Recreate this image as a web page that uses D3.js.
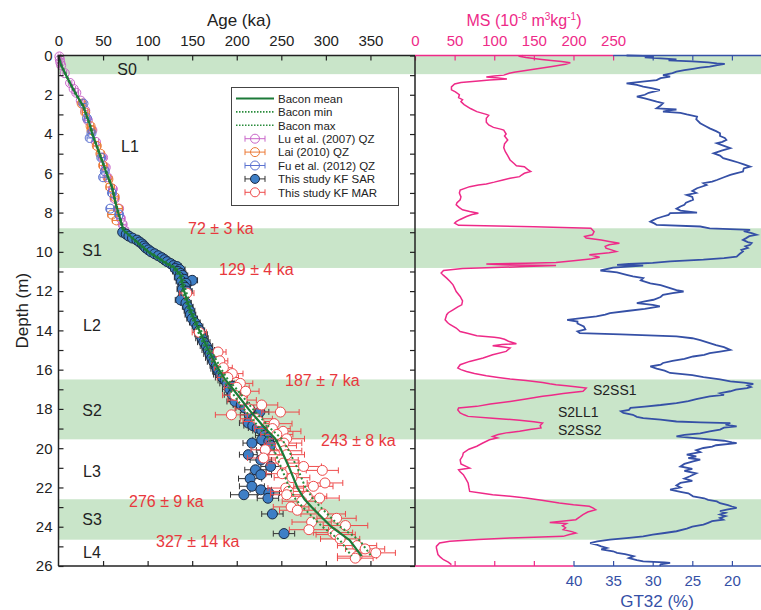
<!DOCTYPE html>
<html>
<head>
<meta charset="utf-8">
<script src="https://cdn.jsdelivr.net/npm/d3@7"></script>
<style>
  body { margin: 0; background: #fff; }
</style>
</head>
<body>
<script>
const W = 761, H = 610;
const FONT = "Arial, 'Liberation Sans', sans-serif";

// ---- data ----
const units = ["S0", "L1", "S1", "L2", "S2", "L3", "S3", "L4"];
const unitDepth = [0.69, 4.66, 9.95, 13.75, 18.09, 21.18, 23.64, 25.3];
const unitX = [127, 130, 92, 92, 92, 92, 92, 92];

const bandTop = [0, 8.8, 16.5, 22.6];
const bandBot = [0.95, 10.82, 19.55, 24.66];

const ageLabels = ["72 ± 3 ka", "129 ± 4 ka", "187 ± 7 ka", "243 ± 8 ka", "276 ± 9 ka", "327 ± 14 ka"];
const ageLabelDepth = [8.83, 10.92, 16.55, 19.62, 22.71, 24.74];
const ageLabelX = [188, 219, 285, 321, 129, 156];

const subUnits = ["S2SS1", "S2LL1", "S2SS2"];
const subUnitDepth = [17.05, 18.15, 19.05];
const subUnitX = [593, 558, 558];

const ageTicks = [0, 50, 100, 150, 200, 250, 300, 350];
const msTicks = [0, 50, 100, 150, 200, 250];
const gtTicks = [40, 35, 30, 25, 20];

// Bacon age model [depth m, age ka]
const baconMean = [[0,0],[0.5,3],[1,8.5],[1.5,14],[2,20],[2.6,28],[3,31],[3.5,35],[4,38],[5,46],[5.5,50],[6,54],[6.7,60],[7.5,64],[8,67],[8.9,73],[9.5,88],[10,101],[10.5,118],[10.8,130],[11.2,137],[12,141],[13,148],[14,158],[15,168],[16,180],[16.5,187],[17,196],[18,213],[19,232],[19.5,243],[20,249],[21,259],[22,268],[22.6,276],[23,284],[24,306],[24.7,327],[25.5,340]];
const baconMin = [[0,0],[0.5,2.5],[1,8],[1.5,13.5],[2,19.5],[2.6,27.5],[3,30.5],[3.5,34.5],[4,37.5],[5,45.5],[5.5,49.5],[6,53.5],[6.7,59.5],[7.5,63.5],[8,66.5],[8.9,72],[9.5,87],[10,100],[10.5,116],[10.8,128],[11.2,135],[12,139],[13,146],[14,156],[15,165],[16,177],[16.5,184],[17,192],[18,208],[19,226],[19.5,236],[20,241],[21,250],[22,259],[22.6,266],[23,274],[24,296],[24.7,316],[25.5,329]];
const baconMax = [[0,0],[0.5,3.5],[1,9],[1.5,14.5],[2,20.5],[2.6,28.5],[3,31.5],[3.5,35.5],[4,38.5],[5,46.5],[5.5,50.5],[6,54.5],[6.7,60.5],[7.5,64.5],[8,67.5],[8.9,74],[9.5,89],[10,102],[10.5,120],[10.8,132],[11.2,139],[12,143],[13,150],[14,160],[15,171],[16,183],[16.5,190],[17,200],[18,218],[19,238],[19.5,250],[20,257],[21,268],[22,277],[22.6,286],[23,294],[24,316],[24.7,338],[25.5,351]];

// OSL ages [depth m, age ka, error ka]
const luQZ = [[0.05,1,1.5],[0.2,1.5,1.5],[0.35,2,1.5],[0.5,3,1.5],[0.9,7,2],[1.4,13,2],[1.7,17,2],[1.9,20,2.5],[2.3,25,2.5],[2.8,30,3],[3.3,33,3],[3.8,38,3],[4.4,42,3],[5.2,50,3.5],[5.7,53,3.5],[6.2,55,3.5],[6.8,61,4],[7.3,63,4],[7.8,68,4],[8.3,70,4],[8.6,72,4],[8.9,74,4]];
const laiQZ = [[2.45,26,3],[2.9,30,3],[3.6,36,3.5],[3.8,37,3.5],[4.6,43,4],[5.0,47,4],[5.6,50,4],[6.3,56,4],[6.7,58,4.5],[7.2,63,4.5],[7.8,67,4.5],[8.1,60,4.5],[8.4,65,4.5]];
const fuQZ = [[2.45,28,3],[3.2,32,3],[3.95,37,3],[4.2,35,3],[5.2,48,3.5],[5.9,52,3.5],[6.2,50,3.5],[7.0,60,4],[7.8,58,4],[8.1,68,4]];
const sarKF = [[9.0,72,3],[9.1,76,3],[9.2,79,3],[9.3,83,4],[9.4,88,4],[9.5,91,4],[9.6,94,4],[9.7,96,4],[9.8,98,4],[9.9,101,4],[10.0,104,5],[10.1,108,5],[10.2,112,5],[10.3,116,5],[10.4,119,5],[10.5,122,5],[10.6,126,5],[10.7,129,5],[10.75,133,5],[10.85,131,5],[10.9,136,6],[11.0,134,6],[11.1,137,6],[11.2,139,6],[11.3,136,6],[11.4,141,6],[11.45,150,6],[11.5,138,6],[11.6,143,6],[11.7,140,6],[11.8,142,6],[11.9,139,6],[12.0,144,6],[12.2,141,6],[12.45,137,6],[12.6,143,6],[12.8,145,6],[13.0,147,6],[13.2,148,6],[13.4,150,6],[13.6,153,6],[13.8,156,6],[14.0,158,6],[14.2,160,7],[14.4,161,7],[14.6,163,7],[14.8,166,7],[15.0,168,7],[15.2,170,7],[15.4,172,7],[15.6,174,7],[15.8,177,7],[15.95,178,7],[16.1,180,7],[16.25,182,8],[16.4,184,8],[16.55,187,8],[16.7,189,8],[16.85,195,8],[17.0,192,8],[17.1,197,8],[17.28,195,9],[17.45,200,9],[17.62,198,9],[17.8,205,9],[17.95,209,10],[18.05,215,10],[18.15,226,10],[18.3,214,10],[18.5,219,10],[18.72,213,10],[18.85,218,10],[18.97,223,10],[19.1,228,10],[19.23,236,10],[19.35,231,10],[19.45,236,10],[19.57,228,10],[19.65,236,10],[19.74,217,10],[19.85,238,10],[20.1,232,10],[20.33,213,10],[20.6,227,12],[20.93,238,11],[21.1,221,12],[21.35,227,12],[21.55,215,13],[21.94,217,14],[22.12,227,12],[22.28,236,12],[22.37,208,15],[22.55,235,12],[23.35,240,12],[24.35,253,12]];
const marKF = [[12.1,144,8],[14.1,158,8],[15.1,179,9],[15.55,181,9],[15.9,185,10],[16.2,195,12],[16.4,190,12],[16.7,204,14],[16.9,200,14],[17.1,210,15],[17.3,198,14],[17.55,206,16],[17.8,228,18],[18.0,214,16],[18.16,249,21],[18.3,194,18],[18.5,222,18],[18.64,225,18],[18.75,242,20],[19.0,240,20],[19.14,252,20],[19.3,245,18],[19.52,256,20],[19.74,253,20],[19.87,249,18],[20.08,232,16],[20.13,253,20],[20.33,256,20],[20.5,230,18],[20.6,249,20],[20.76,252,18],[20.93,275,20],[21.13,296,18],[21.3,251,18],[21.5,262,20],[21.77,299,20],[21.94,286,22],[22.03,255,20],[22.2,258,20],[22.37,256,18],[22.45,279,22],[22.54,293,22],[22.7,273,22],[22.99,261,20],[23.16,268,20],[23.35,297,25],[23.57,312,22],[23.76,284,22],[23.94,322,25],[24.15,281,22],[24.3,308,22],[24.4,311,22],[24.62,316,22],[24.96,335,22],[25.13,344,22],[25.33,356,22],[25.5,335,22],[25.6,333,20]];

// Magnetic susceptibility [depth m, MS 10^-8 m3/kg]
const msData = [[0,136],[0.05,133],[0.1,140],[0.15,150],[0.2,160],[0.25,172],[0.3,185],[0.37,196],[0.45,190],[0.55,175],[0.7,150],[0.85,125],[0.9,119],[1.0,112],[1.05,100],[1.1,90],[1.15,105],[1.2,116],[1.25,94],[1.3,80],[1.38,58],[1.45,50],[1.6,46],[1.75,46],[1.85,51],[2.0,56],[2.15,55],[2.25,60],[2.35,58],[2.5,62],[2.7,70],[2.86,78],[3.0,90],[3.05,93],[3.2,90],[3.4,90],[3.54,93],[3.66,99],[3.75,108],[3.8,112],[4.0,115],[4.1,113],[4.3,117],[4.5,113],[4.7,112],[4.9,114],[5.1,117],[5.32,120],[5.5,125],[5.62,128],[5.66,138],[5.8,142],[5.91,146],[6.0,138],[6.1,134],[6.17,132],[6.25,120],[6.34,111],[6.45,100],[6.54,90],[6.6,80],[6.68,69],[6.85,57],[7.0,56],[7.2,58],[7.35,57],[7.5,53],[7.6,52],[7.75,56],[7.86,60],[7.95,69],[8.03,80],[8.1,72],[8.2,65],[8.35,57],[8.46,52],[8.54,50],[8.65,55],[8.72,150],[8.8,222],[8.97,226],[9.13,224],[9.22,214],[9.3,216],[9.4,235],[9.47,245],[9.56,258],[9.64,245],[9.72,240],[9.81,241],[9.9,248],[9.98,254],[10.05,245],[10.15,220],[10.22,228],[10.27,233],[10.37,221],[10.45,200],[10.54,178],[10.58,140],[10.62,90],[10.66,110],[10.7,178],[10.75,140],[10.85,60],[10.95,36],[11.08,33],[11.2,36],[11.34,40],[11.5,44],[11.68,48],[11.85,50],[12.02,52],[12.27,57],[12.5,60],[12.7,59],[12.8,54],[12.95,48],[13.1,42],[13.2,40],[13.46,38],[13.6,41],[13.7,44],[13.88,52],[14.06,57],[14.15,66],[14.27,78],[14.35,100],[14.39,107],[14.45,113],[14.55,118],[14.68,128],[14.72,110],[14.78,98],[14.85,112],[14.9,120],[15.07,115],[15.24,98],[15.41,86],[15.58,69],[15.75,57],[15.92,54],[16.0,58],[16.09,65],[16.2,75],[16.31,90],[16.4,105],[16.48,120],[16.55,140],[16.65,161],[16.72,170],[16.77,178],[16.82,191],[16.88,205],[16.94,216],[17.02,214],[17.1,212],[17.22,187],[17.3,172],[17.36,161],[17.5,140],[17.62,120],[17.75,95],[17.87,78],[17.95,55],[18.05,54],[18.2,57],[18.3,62],[18.38,67],[18.47,98],[18.52,115],[18.58,132],[18.65,150],[18.72,161],[18.85,158],[18.97,159],[19.05,145],[19.14,132],[19.22,115],[19.3,105],[19.4,98],[19.48,104],[19.57,94],[19.75,85],[19.9,78],[20.05,68],[20.24,61],[20.4,60],[20.59,57],[20.8,58],[21.01,69],[21.1,55],[21.2,57],[21.35,61],[21.55,64],[21.77,67],[22.0,68],[22.2,69],[22.3,85],[22.37,98],[22.45,120],[22.54,140],[22.65,160],[22.79,182],[22.88,200],[22.96,220],[23.05,225],[23.13,228],[23.25,218],[23.38,212],[23.5,208],[23.64,203],[23.72,185],[23.78,170],[23.84,191],[23.95,186],[24.05,190],[24.15,187],[24.25,198],[24.32,203],[24.4,195],[24.49,187],[24.53,150],[24.57,120],[24.65,80],[24.74,44],[24.83,31],[25.0,27],[25.08,27],[25.25,28],[25.42,29],[25.55,32],[25.68,36],[25.8,42],[25.93,46]];

// Grain size >32 um [depth m, %]
const gtData = [[0,33.3],[0.02,31.2],[0.06,29.9],[0.1,31],[0.15,29],[0.2,27],[0.25,28],[0.3,25],[0.35,23],[0.4,21.9],[0.43,20.9],[0.5,22],[0.57,22.8],[0.62,24],[0.68,24.9],[0.75,26],[0.82,27],[0.9,27.5],[1.0,28.7],[1.08,27.8],[1.15,29],[1.25,29.5],[1.32,31],[1.42,33.3],[1.5,32],[1.59,31.2],[1.68,30],[1.76,29.1],[1.9,30.5],[2.0,31],[2.1,32],[2.18,31],[2.26,30.3],[2.35,29.5],[2.43,28.7],[2.55,29],[2.69,29.5],[2.75,27],[2.8,28],[2.86,28.7],[2.92,26.5],[3.0,25.7],[3.11,24.4],[3.25,24.5],[3.45,24],[3.6,23.3],[3.71,22.8],[3.85,22],[3.96,21.5],[4.1,21.5],[4.2,20.9],[4.3,20.7],[4.4,21.2],[4.47,21.9],[4.6,21],[4.72,20.2],[4.85,21.3],[4.98,22.3],[5.1,21.5],[5.23,21.1],[5.35,20],[5.45,19.2],[5.55,18.5],[5.66,17.7],[5.75,18.5],[5.91,18.6],[6.0,19.5],[6.08,20.2],[6.2,21],[6.34,21.9],[6.42,22.5],[6.5,23.6],[6.6,23.2],[6.76,24.4],[6.9,25],[7.0,24.5],[7.1,25.7],[7.2,25],[7.35,24.9],[7.5,25.8],[7.6,26],[7.69,26.5],[7.8,27],[7.9,26.5],[8.0,24.4],[8.03,27.8],[8.12,28],[8.2,28.7],[8.3,29.5],[8.4,30],[8.46,30.3],[8.55,29.8],[8.63,29.5],[8.71,24],[8.8,22.8],[8.88,17.7],[8.95,18.5],[9.05,17.5],[9.13,16.9],[9.2,17.8],[9.3,18.2],[9.39,18.6],[9.5,18],[9.55,17.5],[9.64,17.7],[9.72,18.3],[9.8,18],[9.9,18.8],[9.98,18.6],[10.1,19],[10.24,19.4],[10.32,21],[10.4,23.6],[10.49,27.8],[10.56,30],[10.62,33],[10.66,34.5],[10.7,31.2],[10.8,35],[10.95,36.6],[11.05,34.5],[11.17,33.3],[11.25,32.5],[11.34,31.2],[11.45,31.5],[11.6,30.3],[11.7,29],[11.85,27.8],[11.95,27],[12.02,26.1],[12.1,27.5],[12.19,28.7],[12.3,29],[12.44,29.9],[12.52,31],[12.61,32],[12.7,30],[12.78,29.1],[12.9,31],[13.0,33],[13.12,35.4],[13.2,36],[13.29,37.1],[13.38,39],[13.46,40.8],[13.55,39.5],[13.65,39.5],[13.8,38.7],[13.95,38.5],[14.05,39.5],[14.14,39.2],[14.2,34],[14.31,27],[14.4,25],[14.5,24],[14.65,22.8],[14.75,22],[14.85,21],[14.99,20.2],[15.08,21.5],[15.16,22.8],[15.25,23.5],[15.33,24.9],[15.45,26],[15.55,27.5],[15.66,28.7],[15.75,29],[15.84,30.3],[15.95,29.5],[16.05,28.5],[16.17,27.8],[16.28,25],[16.38,23.6],[16.5,21.5],[16.6,20.2],[16.66,18.5],[16.72,17.3],[16.8,18],[16.88,17.6],[16.94,18.1],[17.02,19.5],[17.1,20.2],[17.2,21.5],[17.28,21],[17.36,22.8],[17.5,24.5],[17.6,25.5],[17.7,27],[17.8,29],[17.88,31],[17.95,32.8],[18.05,33],[18.12,34],[18.2,33.7],[18.3,32.5],[18.4,32],[18.47,31.2],[18.55,29],[18.64,27],[18.68,24],[18.72,20.2],[18.8,20.8],[18.89,19.4],[18.95,21],[19.05,21.5],[19.14,22.8],[19.25,24],[19.32,26],[19.4,27],[19.47,25],[19.53,23.6],[19.62,21],[19.7,20],[19.74,19.4],[19.85,22],[19.92,22.5],[19.99,23.6],[20.1,24.5],[20.2,24],[20.33,25.7],[20.42,24.5],[20.5,25.5],[20.58,24],[20.67,24.9],[20.8,26],[20.93,26.5],[21.05,25],[21.15,26],[21.28,24.5],[21.43,25.3],[21.55,26],[21.66,25],[21.77,26.5],[21.9,27],[22.0,26.5],[22.11,27.8],[22.22,26.5],[22.3,25.5],[22.45,24.9],[22.55,23.5],[22.63,23],[22.71,21.9],[22.8,21.5],[22.9,20.5],[22.97,20],[23.04,19.4],[23.12,20.5],[23.2,21.5],[23.29,20.8],[23.38,21.5],[23.46,20.8],[23.55,21.5],[23.64,21.1],[23.72,22.5],[23.8,23],[23.89,23.6],[24.0,25],[24.1,25.7],[24.23,27],[24.32,28.5],[24.4,30],[24.49,31.2],[24.57,33],[24.66,35.4],[24.75,37],[24.83,37.9],[24.92,37],[25.0,36.5],[25.08,35.8],[25.15,36.5],[25.25,35],[25.33,34.5],[25.4,33.5],[25.5,32.4],[25.6,33],[25.7,32],[25.76,31.2],[25.82,28.5],[25.84,27.8],[25.92,29],[26.0,29.1]];

// ---- colours ----
const cBand = "#c9e5c9", cPink = "#ee2a88", cBlue = "#3550a6", cRed = "#e8383d";
const cGreen = "#1c7a38", cAxis = "#222";
const cLu = "#c966c9", cLai = "#ec7a36", cFu = "#5b72d0";
const cSar = "#3e7fc6", cMar = "#ee4b4b";

// ---- scales ----
const xAge = d3.scaleLinear().domain([0, 400]).range([58.5, 415]);
const xMS = d3.scaleLinear().domain([0, 250]).range([415, 613.1]);
const xGT = d3.scaleLinear().domain([40, 15]).range([573.5, 771.5]);
const yDepth = d3.scaleLinear().domain([0, 26]).range([55.5, 566]);

const svg = d3.select("body").append("svg")
    .attr("width", W)
    .attr("height", H)
    .style("font-family", FONT);

// soil bands across both panels
svg.selectAll("rect.band")
    .data(bandTop)
    .enter()
        .append("rect")
        .attr("x", xAge(0))
        .attr("width", W - xAge(0))
        .attr("y", (d) => yDepth(d))
        .attr("height", (d, i) => yDepth(bandBot[i]) - yDepth(d))
        .attr("fill", cBand);

// unit names
svg.selectAll("text.unit")
    .data(units)
    .enter()
        .append("text")
        .attr("x", (d, i) => unitX[i])
        .attr("y", (d, i) => yDepth(unitDepth[i]) + 5.5)
        .attr("text-anchor", "middle")
        .attr("font-size", 16)
        .attr("fill", cAxis)
        .text((d) => d);

svg.selectAll("text.sub")
    .data(subUnits)
    .enter()
        .append("text")
        .attr("x", (d, i) => subUnitX[i])
        .attr("y", (d, i) => yDepth(subUnitDepth[i]) + 5)
        .attr("font-size", 14)
        .attr("fill", cAxis)
        .text((d) => d);

// ---- right panel curves ----
const msLine = d3.line().x((d) => xMS(d[1])).y((d) => yDepth(d[0]));
const gtLine = d3.line().x((d) => xGT(d[1])).y((d) => yDepth(d[0]));

svg.append("path").datum(msData)
    .attr("d", msLine)
    .attr("fill", "none")
    .attr("stroke", cPink)
    .attr("stroke-width", 1.5);

svg.append("path").datum(gtData)
    .attr("d", gtLine)
    .attr("fill", "none")
    .attr("stroke", cBlue)
    .attr("stroke-width", 1.8);

// ---- left panel age data ----
function drawSeries(data, barColor, fill, stroke, r) {
    let g = svg.append("g");
    g.selectAll("path")
        .data(data)
        .enter()
            .append("path")
            .attr("d", (d) => {
                let y = yDepth(d[0]), x1 = xAge(d[1] - d[2]), x2 = xAge(d[1] + d[2]);
                return `M${x1},${y}H${x2}M${x1},${y - 3}V${y + 3}M${x2},${y - 3}V${y + 3}`;
            })
            .attr("fill", "none")
            .attr("stroke", barColor)
            .attr("stroke-width", 1);
    g.selectAll("circle")
        .data(data)
        .enter()
            .append("circle")
            .attr("cx", (d) => xAge(d[1]))
            .attr("cy", (d) => yDepth(d[0]))
            .attr("r", r)
            .attr("fill", fill)
            .attr("stroke", stroke)
            .attr("stroke-width", 1);
}

drawSeries(luQZ, cLu, "none", cLu, 4.5);
drawSeries(laiQZ, cLai, "none", cLai, 4.5);
drawSeries(fuQZ, cFu, "none", cFu, 4.5);
drawSeries(sarKF, "#333", cSar, "#1b2a44", 5);
drawSeries(marKF, cMar, "#fff", cMar, 5);

const ageLine = d3.line().x((d) => xAge(d[1])).y((d) => yDepth(d[0]));

svg.append("path").datum(baconMin)
    .attr("d", ageLine).attr("fill", "none")
    .attr("stroke", "#2a8c3c").attr("stroke-width", 2).attr("stroke-dasharray", "2,2.5");
svg.append("path").datum(baconMax)
    .attr("d", ageLine).attr("fill", "none")
    .attr("stroke", "#2a8c3c").attr("stroke-width", 2).attr("stroke-dasharray", "2,2.5");
svg.append("path").datum(baconMean)
    .attr("d", ageLine).attr("fill", "none")
    .attr("stroke", cGreen).attr("stroke-width", 2.2);

// red age annotations
svg.selectAll("text.age")
    .data(ageLabels)
    .enter()
        .append("text")
        .attr("x", (d, i) => ageLabelX[i])
        .attr("y", (d, i) => yDepth(ageLabelDepth[i]) + 5.5)
        .attr("font-size", 16)
        .attr("fill", cRed)
        .text((d) => d);

// ---- axes ----
function styleAxis(g, color, size) {
    g.attr("font-family", FONT).attr("font-size", size || 15);
    g.select(".domain").remove();
    g.selectAll(".tick line").attr("stroke", color).attr("stroke-width", 1.2);
    g.selectAll(".tick text").attr("fill", color);
}

svg.append("g")
    .attr("transform", `translate(0,${yDepth(0)})`)
    .call(d3.axisTop(xAge).tickValues(ageTicks).tickSize(-5).tickPadding(10))
    .call((g) => styleAxis(g, cAxis));

svg.append("g")
    .attr("transform", `translate(0,${yDepth(26)})`)
    .call(d3.axisBottom(xAge).tickValues(ageTicks.slice(1)).tickSize(-5).tickFormat(""))
    .call((g) => styleAxis(g, cAxis));

svg.append("g")
    .attr("transform", `translate(${xAge(0)},0)`)
    .call(d3.axisLeft(yDepth).tickValues(d3.range(0, 27)).tickSize(-5).tickPadding(6)
        .tickFormat((d) => (d % 2 === 0 ? d : "")))
    .call((g) => styleAxis(g, cAxis));

svg.append("g")
    .attr("transform", `translate(${xMS(0)},0)`)
    .call(d3.axisLeft(yDepth).tickValues(d3.range(0, 27)).tickSize(5).tickFormat(""))
    .call((g) => styleAxis(g, cAxis));

svg.append("g")
    .attr("transform", `translate(0,${yDepth(0)})`)
    .call(d3.axisTop(xMS).tickValues(msTicks).tickSize(-5).tickPadding(10))
    .call((g) => styleAxis(g, cPink));

svg.append("g")
    .attr("transform", `translate(0,${yDepth(0)})`)
    .call(d3.axisTop(xGT).tickValues(gtTicks.slice(2)).tickSize(-5).tickFormat(""))
    .call((g) => styleAxis(g, cBlue));

svg.append("g")
    .attr("transform", `translate(0,${yDepth(26)})`)
    .call(d3.axisBottom(xMS).tickValues(msTicks.slice(1, 4)).tickSize(-5).tickFormat(""))
    .call((g) => styleAxis(g, cPink));

svg.append("g")
    .attr("transform", `translate(0,${yDepth(26)})`)
    .call(d3.axisBottom(xGT).tickValues(gtTicks).tickSize(-5).tickPadding(9))
    .call((g) => styleAxis(g, cBlue));

// frame lines
const y0 = yDepth(0), y1 = yDepth(26);
const frame = [
    [xAge(0), y0, xMS(0), y0, cAxis],
    [xAge(0), y1, xMS(0), y1, cAxis],
    [xAge(0), y0, xAge(0), y1, cAxis],
    [xMS(0), y0, xMS(0), y1, cAxis],
    [xMS(0), y0, xMS(250), y0, cPink],
    [xMS(250), y0, W, y0, cBlue],
    [xMS(0), y1, xGT(40), y1, cPink],
    [xGT(40), y1, W, y1, cBlue]
];
svg.selectAll("line.frame")
    .data(frame)
    .enter()
        .append("line")
        .attr("x1", (d) => d[0]).attr("y1", (d) => d[1])
        .attr("x2", (d) => d[2]).attr("y2", (d) => d[3])
        .attr("stroke", (d) => d[4])
        .attr("stroke-width", 1.5);

// titles
svg.append("text")
    .attr("x", 239).attr("y", 26)
    .attr("text-anchor", "middle").attr("font-size", 17).attr("fill", cAxis)
    .text("Age (ka)");

let ms = svg.append("text")
    .attr("x", 524).attr("y", 26)
    .attr("text-anchor", "middle").attr("font-size", 16).attr("fill", cPink);
ms.append("tspan").text("MS (10");
ms.append("tspan").attr("font-size", 10).attr("dy", -6).text("-8");
ms.append("tspan").attr("dy", 6).text(" m");
ms.append("tspan").attr("font-size", 10).attr("dy", -6).text("3");
ms.append("tspan").attr("dy", 6).text("kg");
ms.append("tspan").attr("font-size", 10).attr("dy", -6).text("-1");
ms.append("tspan").attr("dy", 6).text(")");

svg.append("text")
    .attr("x", 657).attr("y", 607)
    .attr("text-anchor", "middle").attr("font-size", 17).attr("fill", cBlue)
    .text("GT32 (%)");

svg.append("text")
    .attr("transform", `translate(28,${yDepth(13)}) rotate(-90)`)
    .attr("text-anchor", "middle").attr("font-size", 17).attr("fill", cAxis)
    .text("Depth (m)");

// ---- legend ----
const legendNames = ["Bacon mean", "Bacon min", "Bacon max", "Lu et al. (2007) QZ", "Lai (2010) QZ",
    "Fu et al. (2012) QZ", "This study KF SAR", "This study KF MAR"];
const legendColor = [cGreen, "#2a8c3c", "#2a8c3c", cLu, cLai, cFu, "#333", cMar];
const legendFill = [null, null, null, "none", "none", "none", cSar, "#fff"];
const legendStroke = [null, null, null, cLu, cLai, cFu, "#1b2a44", cMar];

let lg = svg.append("g");
lg.append("rect")
    .attr("x", 231.5).attr("y", 87.5).attr("width", 167).attr("height", 118)
    .attr("fill", "#fff").attr("stroke", "#444").attr("stroke-width", 1);

legendNames.forEach((name, i) => {
    let y = 98.5 + i * 13.4;
    if (i < 3) {
        lg.append("line")
            .attr("x1", 236).attr("x2", 274).attr("y1", y).attr("y2", y)
            .attr("stroke", legendColor[i])
            .attr("stroke-width", i === 0 ? 2 : 1.6)
            .attr("stroke-dasharray", i === 0 ? null : "1.5,1.5");
    } else {
        lg.append("path")
            .attr("d", `M245,${y}H265M245,${y - 3}V${y + 3}M265,${y - 3}V${y + 3}`)
            .attr("stroke", legendColor[i]).attr("fill", "none").attr("stroke-width", 1);
        lg.append("circle")
            .attr("cx", 255).attr("cy", y).attr("r", 4.5)
            .attr("fill", legendFill[i]).attr("stroke", legendStroke[i]).attr("stroke-width", 1);
    }
    lg.append("text")
        .attr("x", 278).attr("y", y + 4.2)
        .attr("font-size", 11.5).attr("fill", cAxis)
        .text(name);
});
</script>
</body>
</html>
